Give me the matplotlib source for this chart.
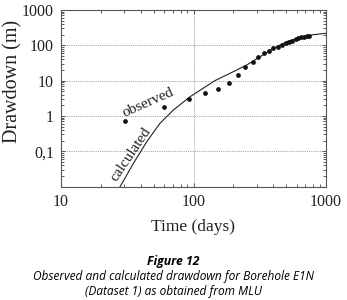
import matplotlib
matplotlib.use("Agg")
import matplotlib.pyplot as plt
from matplotlib.ticker import LogLocator, NullFormatter, FixedLocator, FixedFormatter

# Observed drawdown (days, m)
obs_t = [30.4, 59.5, 91.9, 122.8, 153.9, 184, 215, 246, 280, 308, 340, 369, 401,
         432, 463, 496, 526, 557, 590, 618, 652, 682, 719, 740]
obs_s = [0.72, 1.84, 2.96, 4.57, 5.69, 8.4, 14.8, 24.9, 33.7, 45.8, 59.4, 70.7, 82.2,
         91.7, 102, 114, 124, 135, 148, 158, 168, 176, 184, 188]

# Calculated drawdown curve (days, m)
calc_t = [27.9, 35.2, 44.4, 55.8, 70.5, 94.2, 145, 200, 252, 318, 401, 505, 636, 802, 1000]
calc_s = [0.01, 0.0457, 0.188, 0.62, 1.48, 3.52, 10, 18, 27.7, 47.7, 82, 127, 168, 200, 219]

y_ticks = [0.1, 1, 10, 100, 1000]
y_labels = ["0,1", "1", "10", "100", "1000"]
x_ticks = [10, 100, 1000]
x_labels = ["10", "100", "1000"]

serif = ["Liberation Serif", "DejaVu Serif"]

fig = plt.figure(figsize=(3.47, 3.0), dpi=100)
ax = fig.add_axes([0.1758, 0.3777, 0.7637, 0.589])
ax.set_xscale("log")
ax.set_yscale("log")
ax.set_xlim(10, 1000)
ax.set_ylim(0.01, 1000)

ax.plot(calc_t, calc_s, color="#222222", lw=0.8)
ax.plot(obs_t, obs_s, ls="none", marker="o", ms=2.4, color="#111111")

ax.xaxis.set_major_locator(FixedLocator(x_ticks))
ax.xaxis.set_major_formatter(FixedFormatter(x_labels))
ax.yaxis.set_major_locator(FixedLocator(y_ticks))
ax.yaxis.set_major_formatter(FixedFormatter(y_labels))
ax.xaxis.set_minor_locator(LogLocator(base=10, subs=range(2, 10)))
ax.yaxis.set_minor_locator(LogLocator(base=10, subs=range(2, 10)))
ax.xaxis.set_minor_formatter(NullFormatter())
ax.yaxis.set_minor_formatter(NullFormatter())

ax.grid(True, which="major", color="#888888", ls=(0, (1, 1.2)), lw=0.6)
ax.tick_params(which="both", direction="in", top=True, right=True, colors="#444444",
               width=0.6, labelcolor="#222222", labelsize=11.5, pad=5)
ax.tick_params(which="major", length=3)
ax.tick_params(which="minor", length=2)
for sp in ax.spines.values():
    sp.set_color("#555555")
    sp.set_linewidth(0.8)
for lab in ax.get_xticklabels() + ax.get_yticklabels():
    lab.set_family(serif)

fig.text(0.556, 0.243, "Time (days)", ha="center", va="center", fontsize=12.5,
         family=serif, color="#222222")
fig.text(0.037, 0.727, "Drawdown (m)", ha="center", va="center", rotation=90,
         fontsize=14.5, family=serif, color="#222222")

ax.text(45, 2.4, "observed", rotation=24, ha="center", va="center", fontsize=11,
        family=serif, color="#222222")
ax.text(33.7, 0.084, "calculated", rotation=56, ha="center", va="center", fontsize=11,
        family=serif, color="#222222")

fig.text(0.5, 0.127, "Figure 12", ha="center", va="center", fontsize=8.8,
         fontweight="bold", style="italic", family=["Open Sans", "DejaVu Sans"])
fig.text(0.5, 0.078, "Observed and calculated drawdown for Borehole E1N",
         ha="center", va="center", fontsize=8.6, style="italic",
         family=["Open Sans", "DejaVu Sans"])
fig.text(0.5, 0.028, "(Dataset 1) as obtained from MLU",
         ha="center", va="center", fontsize=8.6, style="italic",
         family=["Open Sans", "DejaVu Sans"])

fig.savefig("out.png", dpi=100)
